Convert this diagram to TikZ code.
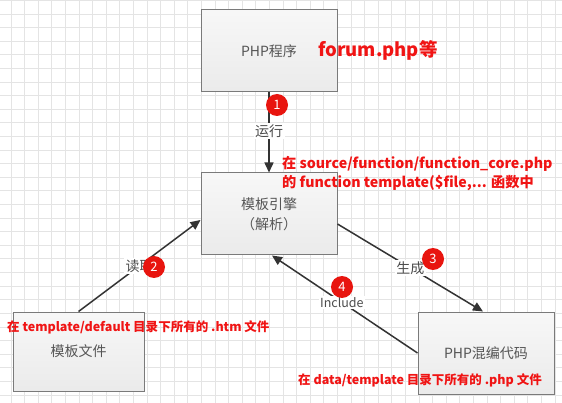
\documentclass[tikz,border=0pt]{standalone}
\usepackage{fontspec}
\newfontfamily\cjk{Noto Sans CJK SC}
\usetikzlibrary{arrows.meta}
\definecolor{gridc}{HTML}{E4E4E4}
\definecolor{boxline}{HTML}{7A7A7A}
\definecolor{boxtext}{HTML}{555555}
\definecolor{redtext}{HTML}{F01414}
\definecolor{badge}{HTML}{E8150F}
\definecolor{conn}{HTML}{333333}
\tikzset{
  gridline/.style={gridc, line width=0.8pt},
  box/.style={draw=boxline, line width=1pt, top color=white!97!black, bottom color=white!92!black,
    minimum width=136pt, minimum height=82pt, inner sep=0pt, font=\cjk\fontsize{14}{20}\selectfont,
    text=boxtext, align=center},
  conn/.style={draw=conn, line width=1.5pt, -{Triangle[length=10pt,width=9pt]}},
  lbl/.style={fill=white, inner sep=1.5pt, font=\cjk\fontsize{14}{16}\selectfont, text=boxtext!90!black},
  badgecirc/.style={circle, fill=badge, minimum size=22pt, inner sep=0pt, text=white,
    font=\cjk\fontsize{13}{14}\selectfont},
  note/.style={text=redtext, font=\cjk\bfseries\fontsize{14.2}{19}\selectfont, inner sep=0pt, anchor=west, align=left},
}
\begin{document}
\begin{tikzpicture}[x=1pt,y=-1pt]
\useasboundingbox (0,0) rectangle (562,403);
\fill[white] (0,0) rectangle (562,403);
\foreach \i in {0,...,41} {
  \draw[gridline] ({11+13.6*\i},0) -- ({11+13.6*\i},403);
}
\foreach \j in {0,...,29} {
  \draw[gridline] (0,{0.5+13.6*\j}) -- (562,{0.5+13.6*\j});
}
% boxes
\node[box] (php) at (269,51) {PHP程序};
\node[box] (me) at (269,214) {模板引擎\\（解析）};
\node[box, minimum width=131pt, minimum height=79pt] (mf) at (78.5,351.5) {模板文件};
\node[box] (mix) at (486,353) {PHP混编代码};
% connectors
\draw[conn] (php.south) -- node[lbl, pos=0.48] (l1) {运行} (me.north);
\draw[conn] (mf.north) -- node[lbl, pos=0.5] (l2) {读取} ([yshift=-6pt]me.west);
\draw[conn] ([yshift=-10pt]me.east) -- node[lbl, pos=0.5] (l3) {生成} ([xshift=-3pt]mix.north);
\draw[conn] (mix.west) -- node[lbl, pos=0.52, font=\cjk\fontsize{12.5}{14}\selectfont] (l4) {Include} ([xshift=3pt]me.south);
% badges
\node[badgecirc] (b1) at (277,105) {1};
\node[badgecirc] (b2) at (154,267) {2};
\node[badgecirc] (b3) at (433,259) {3};
\node[badgecirc] (b4) at (342,287) {4};
% notes
\node[note, font=\cjk\bfseries\fontsize{18.5}{20}\selectfont] (n0) at (318,50) {forum.php等};
\node[note] (n1) at (282,173.5) {在 source/function/function\_core.php\\的 function template(\$file,... 函数中};
\node[note, font=\cjk\bfseries\fontsize{12.5}{14}\selectfont] (n2) at (7,327) {在 template/default 目录下所有的 .htm 文件};
\node[note, font=\cjk\bfseries\fontsize{12.5}{14}\selectfont] (n3) at (298,380) {在 data/template 目录下所有的 .php 文件};
\end{tikzpicture}
\end{document}
